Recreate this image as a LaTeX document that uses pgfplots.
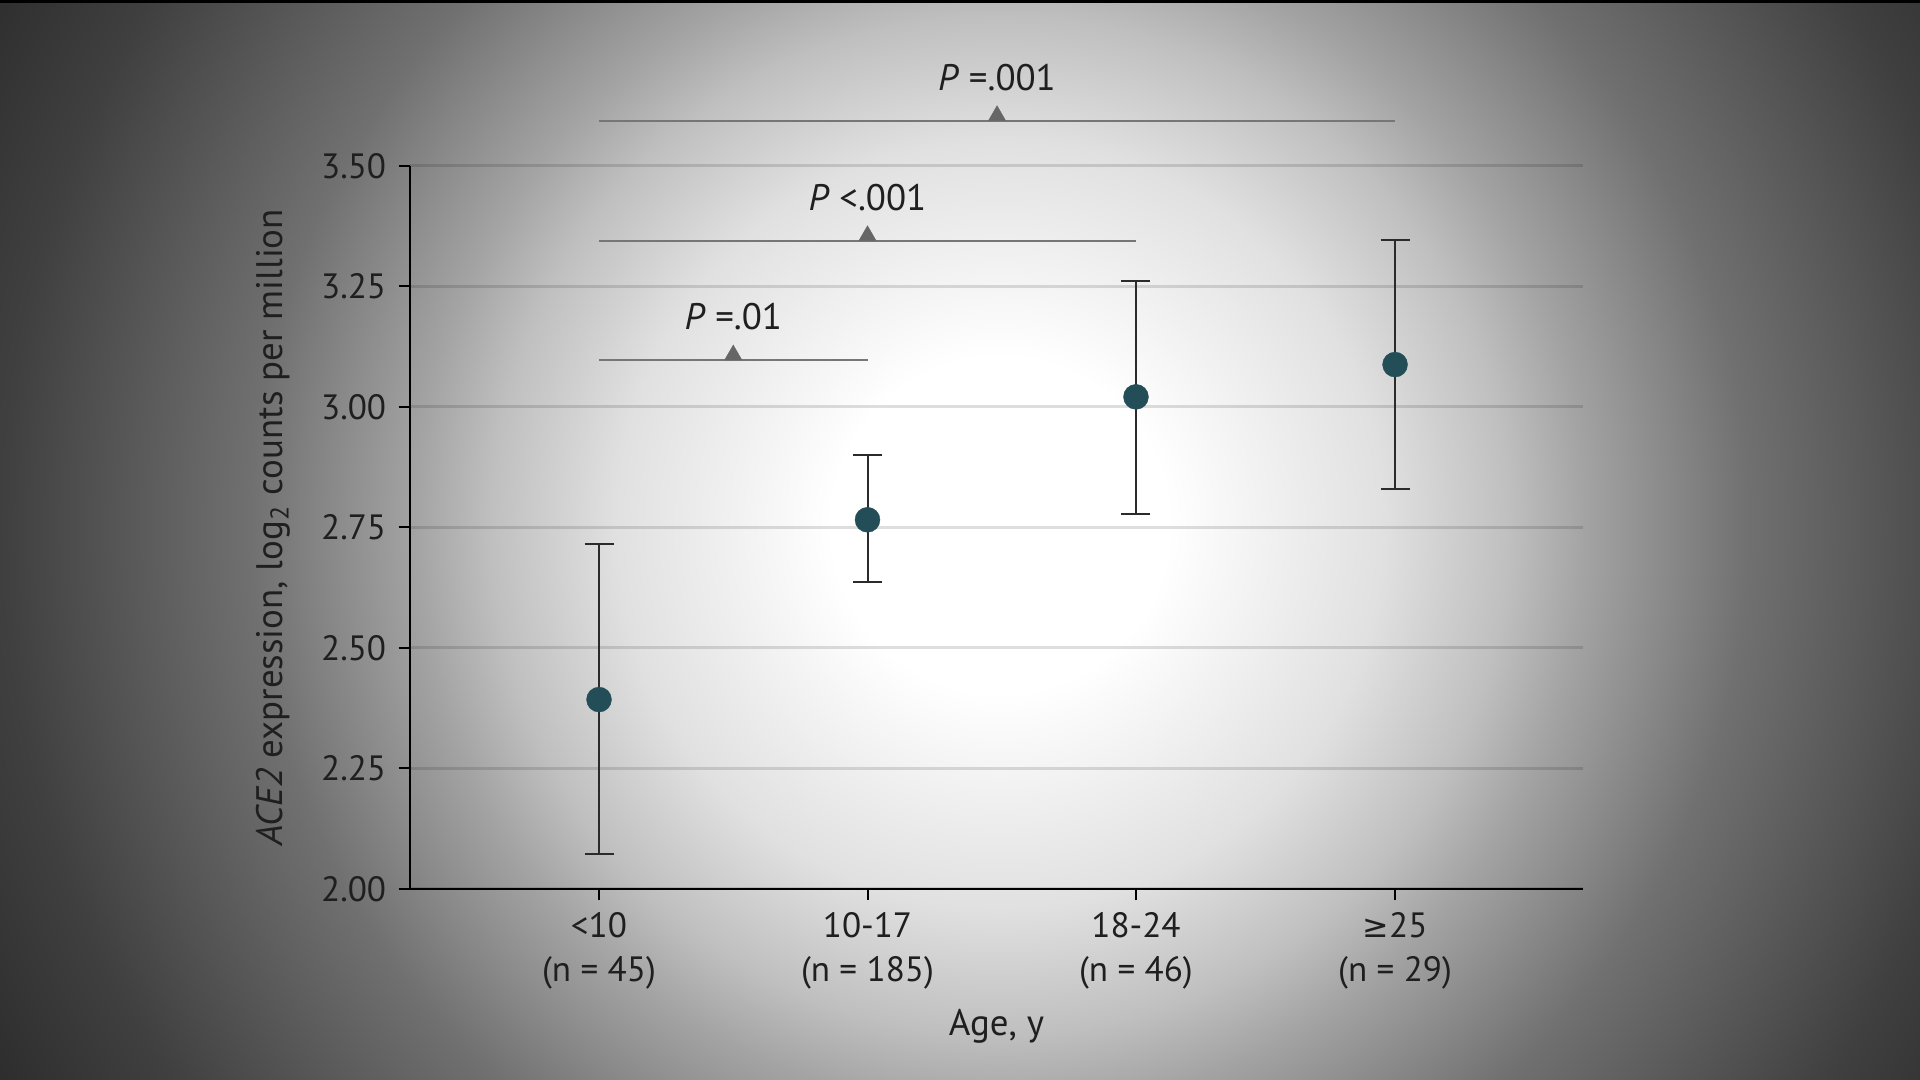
\documentclass[border=0pt]{standalone}
\usepackage{pgfplots}
\pgfplotsset{compat=1.18}
\usepackage{pgfplotstable}
\usepackage{fontspec}
\setmainfont{PT Sans}
\newfontfamily\symfont{DejaVu Sans}
\pgfdeclareradialshading{bgshade}{\pgfpoint{0bp}{0bp}}{color(0bp)=(white); color(3.5bp)=(white); color(8bp)=(black!12); color(10.6bp)=(black!25); color(12.2bp)=(black!36); color(15.6bp)=(black!56); color(20.75bp)=(black!75); color(25bp)=(black!85); color(50bp)=(black!85)}
\definecolor{dotc}{HTML}{234D57}
\definecolor{barc}{HTML}{2B2B2B}
\definecolor{brk}{HTML}{767676}
\definecolor{tri}{HTML}{666666}

\pgfplotstableread{
x y ep em
0 2.393 0.322 0.320
1 2.766 0.134 0.129
2 3.021 0.241 0.242
2.965 3.088 0.259 0.258
}\datatab

\begin{document}
\begin{tikzpicture}
\begin{scope}
\clip (0,0) rectangle (192mm,108mm);
\shade[shading=bgshade] (100mm,55.5mm) circle (120mm);
\fill[black] (0,107.65mm) rectangle (192mm,108mm);
\end{scope}
\begin{axis}[
  at={(41mm,19.1mm)}, anchor=south west,
  scale only axis, width=117.3mm, height=72.3mm,
  xmin=-0.704, xmax=3.665, ymin=2, ymax=3.5,
  axis x line*=bottom, axis y line*=left,
  axis line style={-, line width=0.2mm, black},
  tick style={line width=0.2mm, black},
  tick align=outside, major tick length=1.15mm,
  xtick={0,1,2,2.965},
  xticklabels={{<10\\(n = 45)},{10-17\\(n = 185)},{18-24\\(n = 46)},{{\symfont\fontsize{9}{12}\selectfont ≥}25\\(n = 29)}},
  xticklabel style={align=center, font=\fontsize{10}{12.5}\selectfont, text=black!88},
  ytick={2,2.25,2.5,2.75,3,3.25,3.5},
  yticklabel style={/pgf/number format/fixed, /pgf/number format/fixed zerofill, /pgf/number format/precision=2, font=\fontsize{10}{12}\selectfont, text=black!88},
  /pgf/number format/assume math mode=true,
  ymajorgrids, grid style={line width=0.3mm, black, opacity=0.13},
  clip=false,
  xlabel={Age, y},
  xlabel style={at={(axis description cs:0.5,-0.2033)}, anchor=base, font=\fontsize{10.5}{12}\selectfont, text=black!88},
  ylabel={\textit{ACE2} expression, log\textsubscript{2} counts per million},
  ylabel style={at={(axis description cs:-0.1083,0.5)}, anchor=base, font=\fontsize{10.5}{12}\selectfont, text=black!88},
]
\addplot[brk, line width=0.2mm] coordinates {(0,3.0975) (1,3.0975)};
\addplot[brk, line width=0.2mm] coordinates {(0,3.345) (2,3.345)};
\addplot[brk, line width=0.2mm] coordinates {(0,3.594) (2.965,3.594)};
\addplot[only marks, mark=triangle*, mark size=1.0mm, mark options={fill=tri, draw=tri, line width=0.1pt, yshift=0.5mm}] coordinates {(0.5,3.0975) (1,3.345) (1.4825,3.594)};
\node[anchor=base, yshift=3mm, font=\fontsize{10.5}{12}\selectfont, text=black!88] at (axis cs:0.5,3.0975) {\textit{P} =.01};
\node[anchor=base, yshift=3mm, font=\fontsize{10.5}{12}\selectfont, text=black!88] at (axis cs:1,3.345) {\textit{P} <.001};
\node[anchor=base, yshift=3mm, font=\fontsize{10.5}{12}\selectfont, text=black!88] at (axis cs:1.4825,3.594) {\textit{P} =.001};
\addplot[only marks, mark=*, mark size=1.25mm, mark options={fill=dotc, draw=dotc, line width=0.1pt},
  error bars/.cd, y dir=both, y explicit,
  error bar style={line width=0.2mm, barc},
  error mark options={rotate=90, line width=0.2mm, barc, mark size=1.45mm}]
  table[x=x, y=y, y error plus=ep, y error minus=em] {\datatab};
\end{axis}
\pgfresetboundingbox
\path[use as bounding box] (0,0) rectangle (192mm,108mm);
\end{tikzpicture}
\end{document}
